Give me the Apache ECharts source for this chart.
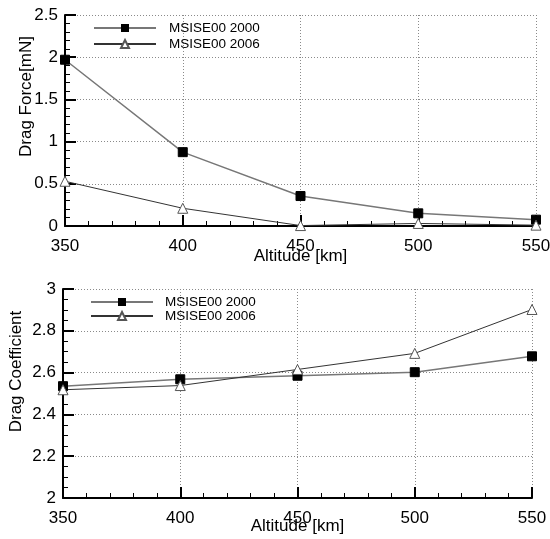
<!DOCTYPE html>
<html><head><meta charset="utf-8">
<script src="https://cdn.jsdelivr.net/npm/echarts@6/dist/echarts.min.js"></script>
<style>html,body{margin:0;padding:0;background:#fff}#c{width:550px;height:539px}</style>
</head><body><div id="c"></div>
<script>
const altitudes = [350, 400, 450, 500, 550];
const seriesNames = ['MSISE00 2000', 'MSISE00 2006'];
const force2000 = [1.97, 0.875, 0.355, 0.15, 0.075];
const force2006 = [0.53, 0.21, 0.005, 0.03, 0.01];
const coef2000 = [2.535, 2.568, 2.585, 2.602, 2.678];
const coef2006 = [2.518, 2.538, 2.615, 2.692, 2.902];

const FONT = 'Liberation Sans, Arial, sans-serif';
function pairs(ys){ return altitudes.map((x,i)=>[x, ys[i]]); }

function xAxis(gi, margin, gap){
  return {
    type:'value', gridIndex:gi, min:350, max:550, interval:50,
    name:'Altitude [km]', nameLocation:'middle', nameGap:gap, nameMoveOverlap:false,
    nameTextStyle:{fontFamily:FONT, fontSize:17, color:'#000'},
    axisLine:{show:true, onZero:false, lineStyle:{color:'#000', width:2}},
    axisTick:{show:true, inside:true, length:11, lineStyle:{color:'#000', width:2}},
    minorTick:{show:true, splitNumber:5, length:5, lineStyle:{color:'#000', width:1}},
    axisLabel:{fontFamily:FONT, fontSize:17, color:'#000', margin:margin},
    splitLine:{show:true, lineStyle:{color:'#8a8a8a', type:[1,2], width:1}}
  };
}
function yAxis(gi, min, max, interval, minorSplit, name, gap, shift){
  return {
    type:'value', gridIndex:gi, min:min, max:max, interval:interval,
    name:name, nameLocation:'middle', nameGap:gap, nameRotate:90, nameMoveOverlap:false,
    nameTextStyle:{fontFamily:FONT, fontSize:17, color:'#000', padding:[0,0,0,shift]},
    axisLine:{show:true, onZero:false, lineStyle:{color:'#000', width:2}},
    axisTick:{show:true, inside:true, length:11, lineStyle:{color:'#000', width:2}},
    minorTick:{show:true, splitNumber:minorSplit, length:5, lineStyle:{color:'#000', width:1}},
    axisLabel:{fontFamily:FONT, fontSize:17, color:'#000', margin:7},
    splitLine:{show:true, lineStyle:{color:'#8a8a8a', type:[1,2], width:1}}
  };
}
function sq(name, data, xi, yi){
  return {name:name, type:'line', xAxisIndex:xi, yAxisIndex:yi, data:data,
    symbol:'rect', symbolSize:9, showSymbol:true,
    lineStyle:{color:'#777', width:1.5}, itemStyle:{color:'#000', borderColor:'#000'}, z:3};
}
function tri(name, data, xi, yi){
  return {name:name, type:'line', xAxisIndex:xi, yAxisIndex:yi, data:data,
    symbol:'triangle', symbolSize:10, showSymbol:true,
    lineStyle:{color:'#333', width:1}, itemStyle:{color:'#fff', borderColor:'#555', borderWidth:1}, z:3};
}
function legend(left, top, gap, pad){
  return {left:left, top:top, padding:0, orient:'vertical', itemWidth:62, itemHeight:10, itemGap:gap,
    selectedMode:false, data:seriesNames,
    textStyle:{fontFamily:FONT, fontSize:13.5, color:'#000', lineHeight:12, padding:[0,0,0,pad]}};
}
const chart = echarts.init(document.getElementById('c'), null, {renderer:'canvas'});
chart.setOption({
  animation:false,
  backgroundColor:'#fff',
  grid:[
    {left:65, right:14, top:15, height:211, outerBoundsMode:'none', containLabel:false},
    {left:63, right:18, top:289, height:209, outerBoundsMode:'none', containLabel:false}
  ],
  legend:[legend(93, 21, 2, 8), legend(90, 295, 0, 7)],
  xAxis:[xAxis(0, 12, 22), xAxis(1, 12, 20)],
  yAxis:[yAxis(0, 0, 2.5, 0.5, 5, 'Drag Force[mN]', 30, 48), yAxis(1, 2, 3, 0.2, 4, 'Drag Coefficient', 38, 44)],
  series:[
    sq(seriesNames[0], pairs(force2000), 0, 0),
    tri(seriesNames[1], pairs(force2006), 0, 0),
    sq(seriesNames[0], pairs(coef2000), 1, 1),
    tri(seriesNames[1], pairs(coef2006), 1, 1)
  ]
});
</script></body></html>
